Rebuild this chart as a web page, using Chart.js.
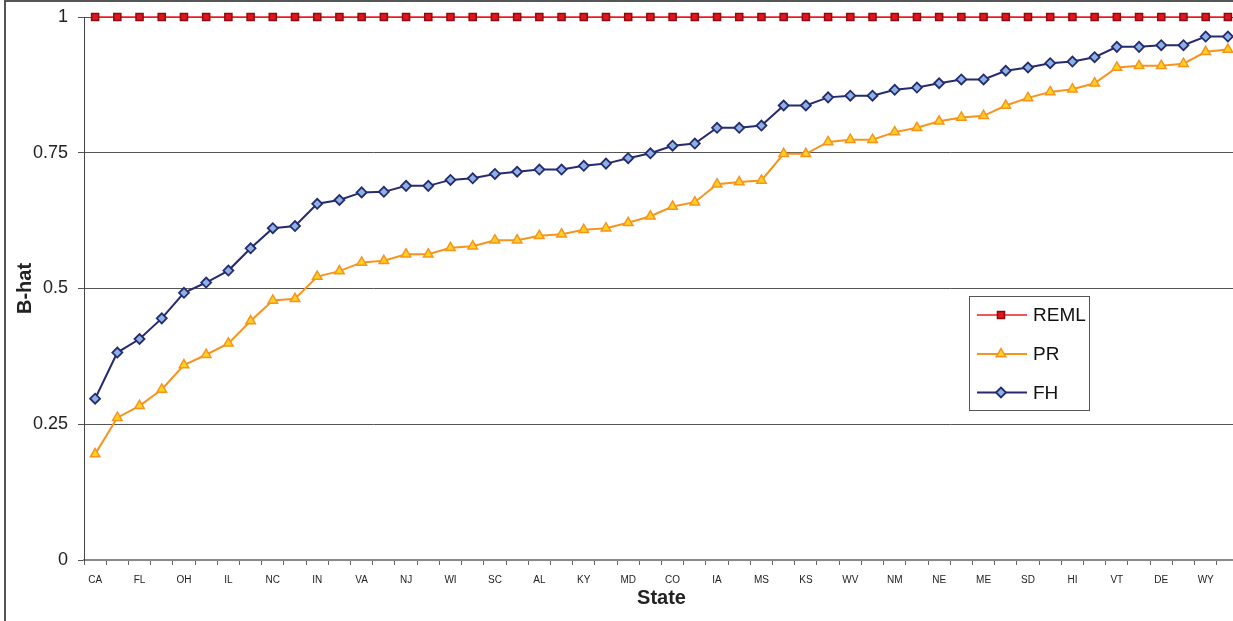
<!DOCTYPE html>
<html>
<head>
<meta charset="utf-8">
<script src="https://cdn.jsdelivr.net/npm/chart.js@4/dist/chart.umd.min.js"></script>
<style>
  html, body { margin: 0; padding: 0; background: #fff; overflow: hidden; }
  #wrap { position: relative; width: 1250px; height: 621px; }
  #bhat { display: block; }
</style>
</head>
<body>
<div id="wrap"><canvas id="bhat" width="1250" height="621"></canvas></div>
<script>
// categories (only every other state is labelled on the axis)
const states = ['CA','','FL','','OH','','IL','','NC','','IN','','VA','','NJ','','WI','','SC','',
  'AL','','KY','','MD','','CO','','IA','','MS','','KS','','WV','','NM','','NE','',
  'ME','','SD','','HI','','VT','','DE','','WY',''];

const remlValues = [1,1,1,1,1,1,1,1,1,1, 1,1,1,1,1,1,1,1,1,1, 1,1,1,1,1,1,1,1,1,1,
  1,1,1,1,1,1,1,1,1,1, 1,1,1,1,1,1,1,1,1,1, 1,1];

const prValues = [0.195,0.262,0.284,0.314,0.359,0.378,0.399,0.440,0.478,0.481,
  0.522,0.532,0.548,0.551,0.563,0.563,0.575,0.578,0.589,0.589,
  0.597,0.600,0.608,0.611,0.621,0.633,0.651,0.659,0.692,0.696,
  0.699,0.748,0.748,0.770,0.774,0.774,0.788,0.796,0.808,0.815,
  0.818,0.837,0.851,0.862,0.867,0.878,0.907,0.910,0.910,0.914,
  0.936,0.940];

const fhValues = [0.297,0.382,0.407,0.445,0.492,0.511,0.533,0.574,0.611,0.615,
  0.656,0.663,0.677,0.678,0.689,0.689,0.700,0.703,0.711,0.715,
  0.719,0.719,0.726,0.730,0.740,0.749,0.763,0.767,0.796,0.796,
  0.800,0.837,0.837,0.852,0.855,0.855,0.866,0.870,0.878,0.885,
  0.885,0.901,0.907,0.915,0.918,0.926,0.945,0.945,0.948,0.948,
  0.964,0.964];

const yTickLabels = ['0', '0.25', '0.5', '0.75', '1'];

const FONT = "'Liberation Sans', Arial, sans-serif";

// outer frame of the chart
const framePlugin = {
  id: 'frame',
  beforeDraw(chart) {
    const c = chart.ctx;
    c.save();
    c.fillStyle = '#fff';
    c.fillRect(0, 0, chart.width, chart.height);
    c.strokeStyle = '#555';
    c.lineWidth = 2;
    c.strokeRect(5, 1, 2000, 2000);
    c.restore();
  }
};

// legend box inside the plot, like the original
const boxLegend = {
  id: 'boxLegend',
  afterDraw(chart) {
    const c = chart.ctx;
    const x0 = 969.5, y0 = 296.5, w = 120, h = 114;
    c.save();
    c.fillStyle = '#fff';
    c.fillRect(x0, y0, w, h);
    c.strokeStyle = '#555';
    c.lineWidth = 1;
    c.strokeRect(x0, y0, w, h);
    const rows = [315, 354, 392.5];
    chart.data.datasets.forEach((ds, i) => {
      const y = rows[i];
      c.strokeStyle = ds.borderColor;
      c.lineWidth = ds.borderWidth;
      c.beginPath();
      c.moveTo(977, y);
      c.lineTo(1027, y);
      c.stroke();
      c.fillStyle = ds.pointBackgroundColor;
      c.strokeStyle = ds.pointBorderColor;
      c.lineWidth = ds.pointBorderWidth;
      Chart.helpers.drawPoint(c, {pointStyle: ds.pointStyle, radius: ds.pointRadius, borderWidth: ds.pointBorderWidth, rotation: 0}, 1001, y);
      c.fillStyle = '#111';
      c.font = '19px ' + FONT;
      c.textBaseline = 'middle';
      c.textAlign = 'left';
      c.fillText(ds.label, 1033, y + 1);
    });
    c.restore();
  }
};

new Chart(document.getElementById('bhat'), {
  type: 'line',
  data: {
    labels: states,
    datasets: [
      {
        label: 'REML', data: remlValues,
        borderColor: '#ee1c25', borderWidth: 1.5,
        pointStyle: 'rect', pointRadius: 5, pointBorderWidth: 1.5,
        pointBackgroundColor: '#e3141c', pointBorderColor: '#8b0c10',
        clip: false, order: 0
      },
      {
        label: 'PR', data: prValues,
        borderColor: '#f7941d', borderWidth: 2,
        pointStyle: 'triangle', pointRadius: 5.5, pointBorderWidth: 1.5,
        pointBackgroundColor: '#ffd21f', pointBorderColor: '#f7941d',
        clip: false, order: 2
      },
      {
        label: 'FH', data: fhValues,
        borderColor: '#262a70', borderWidth: 2,
        pointStyle: 'rectRot', pointRadius: 5, pointBorderWidth: 1.8,
        pointBackgroundColor: '#8bb2e2', pointBorderColor: '#262a70',
        clip: false, order: 1
      }
    ]
  },
  options: {
    responsive: false,
    animation: false,
    devicePixelRatio: 1,
    layout: { padding: { top: 17, right: 11, left: 0, bottom: 0 } },
    plugins: {
      legend: { display: false },
      tooltip: { enabled: false }
    },
    elements: { line: { tension: 0 } },
    scales: {
      x: {
        type: 'category',
        offset: true,
        grid: { offset: true, drawOnChartArea: false, color: '#666', tickLength: 5, lineWidth: 1 },
        border: { color: '#8a8a8a', width: 2 },
        ticks: {
          autoSkip: false, maxRotation: 0, minRotation: 0, padding: 9,
          color: '#222', font: { family: FONT, size: 10 },
          callback: (v, i) => states[i]
        },
        title: {
          display: true, text: 'State', color: '#222',
          font: { family: FONT, size: 20, weight: 'bold' },
          padding: { top: 0, bottom: 11 }
        },
        afterFit(scale) { scale.height = 61; }
      },
      y: {
        min: 0, max: 1,
        ticks: {
          stepSize: 0.25, padding: 10, color: '#222',
          font: { family: FONT, size: 18 },
          callback: (v, i) => yTickLabels[i]
        },
        grid: { color: '#555', lineWidth: 1, tickLength: 6 },
        border: { color: '#444', width: 1 },
        title: {
          display: true, text: 'B-hat', color: '#222',
          font: { family: FONT, size: 20, weight: 'bold' },
          padding: { top: 13, bottom: 0 }
        },
        afterFit(scale) {
          scale.width = 84;
          scale.paddingTop = 0;
          scale.paddingBottom = 0;
        }
      }
    }
  },
  plugins: [framePlugin, boxLegend]
});
</script>
</body>
</html>
